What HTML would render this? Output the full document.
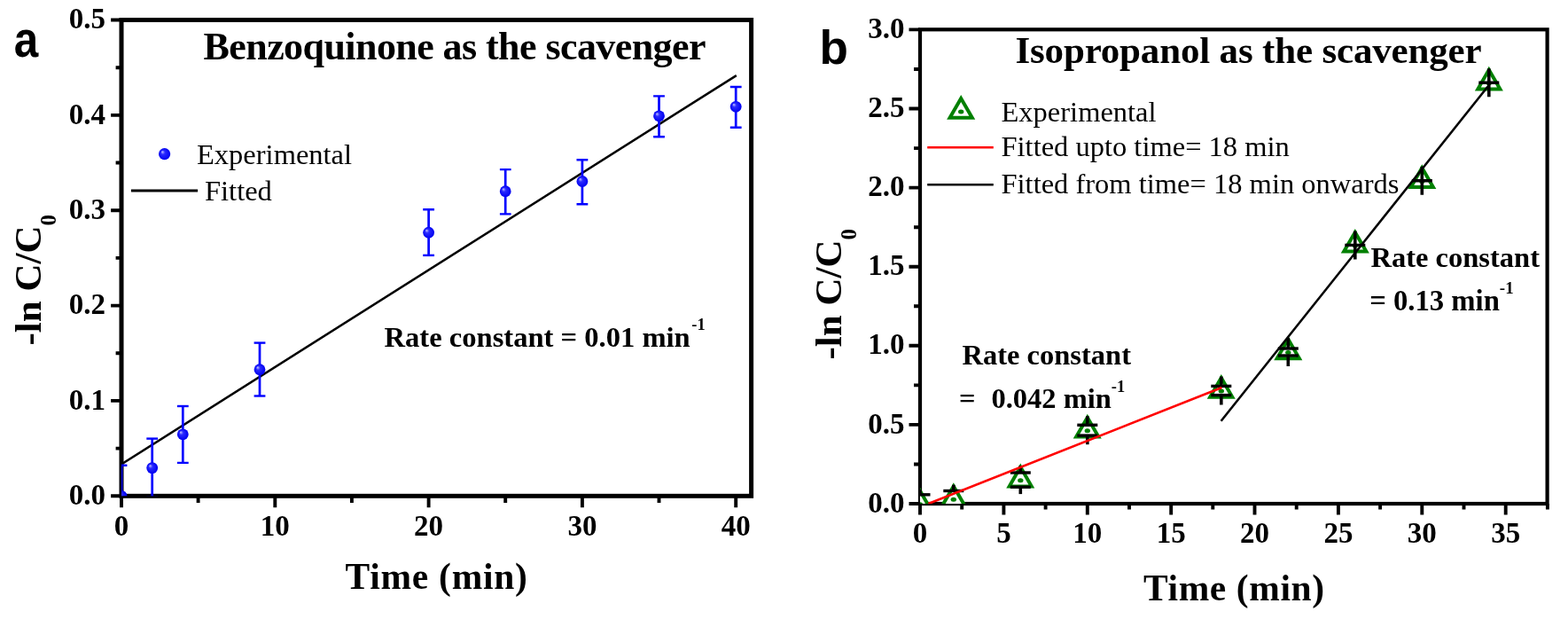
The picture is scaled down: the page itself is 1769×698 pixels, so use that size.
<!DOCTYPE html>
<html><head><meta charset="utf-8"><title>Scavenger kinetics</title>
<style>html,body{margin:0;padding:0;background:#fff;} svg{display:block;}</style></head>
<body><svg width="1769" height="698" viewBox="0 0 1769 698">
<defs><radialGradient id="sph" cx="0.5" cy="0.5" r="0.5" fx="0.3" fy="0.3">
<stop offset="0" stop-color="#c8c8ff"/><stop offset="0.35" stop-color="#2a2aff"/><stop offset="1" stop-color="#0000f0"/></radialGradient></defs>
<rect width="1769" height="698" fill="#fff"/>
<clipPath id="ca"><rect x="137.0" y="22.5" width="710.6" height="536.8"/></clipPath>
<clipPath id="cb"><rect x="1038" y="33.3" width="707.5999999999999" height="534.7"/></clipPath>
<rect x="137.0" y="22.5" width="710.6" height="536.8" fill="none" stroke="#000" stroke-width="5.0"/>
<path d="M137.0 559.3 V572.3 M310.3 559.3 V572.3 M483.6 559.3 V572.3 M656.9 559.3 V572.3 M830.2 559.3 V572.3 M223.6 559.3 V567 M396.9 559.3 V567 M570.2 559.3 V567 M743.5 559.3 V567 M137.0 559.3 H125.1 M137.0 451.9 H125.1 M137.0 344.6 H125.1 M137.0 237.2 H125.1 M137.0 129.9 H125.1 M137.0 22.5 H125.1 M137.0 505.6 H130.6 M137.0 398.3 H130.6 M137.0 290.9 H130.6 M137.0 183.5 H130.6 M137.0 76.2 H130.6" stroke="#000" stroke-width="3.9" fill="none"/>
<g clip-path="url(#ca)">
<line x1="137.0" y1="523.5" x2="830.8" y2="85.1" stroke="#000" stroke-width="2.5"/>
<line x1="137.0" y1="524.7" x2="137.0" y2="594" stroke="#0000ff" stroke-width="2.7"/>
<line x1="130.6" y1="524.7" x2="143.4" y2="524.7" stroke="#0000ff" stroke-width="2.4"/>
<line x1="130.6" y1="594" x2="143.4" y2="594" stroke="#0000ff" stroke-width="2.4"/>
<circle cx="137.0" cy="559.3" r="6.4" fill="url(#sph)"/>
<line x1="171.7" y1="494.6" x2="171.7" y2="560.6" stroke="#0000ff" stroke-width="2.7"/>
<line x1="165.3" y1="494.6" x2="178.1" y2="494.6" stroke="#0000ff" stroke-width="2.4"/>
<line x1="165.3" y1="560.6" x2="178.1" y2="560.6" stroke="#0000ff" stroke-width="2.4"/>
<circle cx="171.7" cy="527.6" r="6.4" fill="url(#sph)"/>
<line x1="206.3" y1="458" x2="206.3" y2="521.9" stroke="#0000ff" stroke-width="2.7"/>
<line x1="199.9" y1="458" x2="212.7" y2="458" stroke="#0000ff" stroke-width="2.4"/>
<line x1="199.9" y1="521.9" x2="212.7" y2="521.9" stroke="#0000ff" stroke-width="2.4"/>
<circle cx="206.3" cy="489.8" r="6.4" fill="url(#sph)"/>
<line x1="293.0" y1="386.6" x2="293.0" y2="446.5" stroke="#0000ff" stroke-width="2.7"/>
<line x1="286.6" y1="386.6" x2="299.4" y2="386.6" stroke="#0000ff" stroke-width="2.4"/>
<line x1="286.6" y1="446.5" x2="299.4" y2="446.5" stroke="#0000ff" stroke-width="2.4"/>
<circle cx="293.0" cy="416.7" r="6.4" fill="url(#sph)"/>
<line x1="483.6" y1="236.2" x2="483.6" y2="287.9" stroke="#0000ff" stroke-width="2.7"/>
<line x1="477.2" y1="236.2" x2="490.0" y2="236.2" stroke="#0000ff" stroke-width="2.4"/>
<line x1="477.2" y1="287.9" x2="490.0" y2="287.9" stroke="#0000ff" stroke-width="2.4"/>
<circle cx="483.6" cy="262.2" r="6.4" fill="url(#sph)"/>
<line x1="570.2" y1="191.1" x2="570.2" y2="241.4" stroke="#0000ff" stroke-width="2.7"/>
<line x1="563.9" y1="191.1" x2="576.6" y2="191.1" stroke="#0000ff" stroke-width="2.4"/>
<line x1="563.9" y1="241.4" x2="576.6" y2="241.4" stroke="#0000ff" stroke-width="2.4"/>
<circle cx="570.2" cy="215.7" r="6.4" fill="url(#sph)"/>
<line x1="656.9" y1="180.3" x2="656.9" y2="230.2" stroke="#0000ff" stroke-width="2.7"/>
<line x1="650.5" y1="180.3" x2="663.3" y2="180.3" stroke="#0000ff" stroke-width="2.4"/>
<line x1="650.5" y1="230.2" x2="663.3" y2="230.2" stroke="#0000ff" stroke-width="2.4"/>
<circle cx="656.9" cy="204.5" r="6.4" fill="url(#sph)"/>
<line x1="743.5" y1="108.4" x2="743.5" y2="154.2" stroke="#0000ff" stroke-width="2.7"/>
<line x1="737.1" y1="108.4" x2="749.9" y2="108.4" stroke="#0000ff" stroke-width="2.4"/>
<line x1="737.1" y1="154.2" x2="749.9" y2="154.2" stroke="#0000ff" stroke-width="2.4"/>
<circle cx="743.5" cy="130.8" r="6.4" fill="url(#sph)"/>
<line x1="830.2" y1="98" x2="830.2" y2="143.8" stroke="#0000ff" stroke-width="2.7"/>
<line x1="823.8" y1="98" x2="836.6" y2="98" stroke="#0000ff" stroke-width="2.4"/>
<line x1="823.8" y1="143.8" x2="836.6" y2="143.8" stroke="#0000ff" stroke-width="2.4"/>
<circle cx="830.2" cy="120.3" r="6.4" fill="url(#sph)"/>
</g>
<g font-family="'Liberation Serif', 'Times New Roman', serif" font-weight="bold" font-size="33"><text x="119" y="568.9" text-anchor="end">0.0</text><text x="119" y="461.5" text-anchor="end">0.1</text><text x="119" y="354.2" text-anchor="end">0.2</text><text x="119" y="246.8" text-anchor="end">0.3</text><text x="119" y="139.5" text-anchor="end">0.4</text><text x="119" y="32.1" text-anchor="end">0.5</text><text x="137.0" y="603.5" text-anchor="middle">0</text><text x="310.3" y="603.5" text-anchor="middle">10</text><text x="483.6" y="603.5" text-anchor="middle">20</text><text x="656.9" y="603.5" text-anchor="middle">30</text><text x="830.2" y="603.5" text-anchor="middle">40</text></g>
<rect x="1038.0" y="33.3" width="707.5999999999999" height="534.7" fill="none" stroke="#000" stroke-width="4.2"/>
<path d="M1038.0 568.0 V580.6 M1132.4 568.0 V580.6 M1226.8 568.0 V580.6 M1321.2 568.0 V580.6 M1415.5 568.0 V580.6 M1509.9 568.0 V580.6 M1604.3 568.0 V580.6 M1698.7 568.0 V580.6 M1085.2 568.0 V574.5 M1179.6 568.0 V574.5 M1274.0 568.0 V574.5 M1368.3 568.0 V574.5 M1462.7 568.0 V574.5 M1557.1 568.0 V574.5 M1651.5 568.0 V574.5 M1745.9 568.0 V574.5 M1038.0 568.0 H1025.5 M1038.0 478.9 H1025.5 M1038.0 389.8 H1025.5 M1038.0 300.7 H1025.5 M1038.0 211.6 H1025.5 M1038.0 122.5 H1025.5 M1038.0 33.4 H1025.5 M1038.0 523.5 H1031 M1038.0 434.4 H1031 M1038.0 345.2 H1031 M1038.0 256.2 H1031 M1038.0 167.1 H1031 M1038.0 78.0 H1031" stroke="#000" stroke-width="3.9" fill="none"/>
<g clip-path="url(#cb)">
<polygon points="1038.0,553.6 1025.4,575.4 1050.6,575.4" fill="#fff" stroke="#008000" stroke-width="4.0" stroke-linejoin="miter"/><ellipse cx="1038.0" cy="568.7" rx="3.2" ry="2.5" fill="#008000"/>
<polygon points="1075.8,548.2 1063.2,570.0 1088.3,570.0" fill="#fff" stroke="#008000" stroke-width="4.0" stroke-linejoin="miter"/><ellipse cx="1075.8" cy="563.3" rx="3.2" ry="2.5" fill="#008000"/>
<polygon points="1151.3,526.6 1138.7,548.4 1163.8,548.4" fill="#fff" stroke="#008000" stroke-width="4.0" stroke-linejoin="miter"/><ellipse cx="1151.3" cy="541.7" rx="3.2" ry="2.5" fill="#008000"/>
<polygon points="1226.8,470.7 1214.2,492.4 1239.3,492.4" fill="#fff" stroke="#008000" stroke-width="4.0" stroke-linejoin="miter"/><ellipse cx="1226.8" cy="485.8" rx="3.2" ry="2.5" fill="#008000"/>
<polygon points="1377.8,426.0 1365.2,447.8 1390.3,447.8" fill="#fff" stroke="#008000" stroke-width="4.0" stroke-linejoin="miter"/><ellipse cx="1377.8" cy="441.1" rx="3.2" ry="2.5" fill="#008000"/>
<polygon points="1453.3,382.5 1440.7,404.2 1465.9,404.2" fill="#fff" stroke="#008000" stroke-width="4.0" stroke-linejoin="miter"/><ellipse cx="1453.3" cy="397.6" rx="3.2" ry="2.5" fill="#008000"/>
<polygon points="1528.8,261.9 1516.2,283.6 1541.4,283.6" fill="#fff" stroke="#008000" stroke-width="4.0" stroke-linejoin="miter"/><ellipse cx="1528.8" cy="277.0" rx="3.2" ry="2.5" fill="#008000"/>
<polygon points="1604.3,189.3 1591.8,211.1 1616.9,211.1" fill="#fff" stroke="#008000" stroke-width="4.0" stroke-linejoin="miter"/><ellipse cx="1604.3" cy="204.4" rx="3.2" ry="2.5" fill="#008000"/>
<polygon points="1679.8,78.7 1667.3,100.5 1692.4,100.5" fill="#fff" stroke="#008000" stroke-width="4.0" stroke-linejoin="miter"/><ellipse cx="1679.8" cy="93.8" rx="3.2" ry="2.5" fill="#008000"/>
<line x1="1038.0" y1="552.1" x2="1038.0" y2="557.8" stroke="#000" stroke-width="3.6"/>
<line x1="1038.0" y1="578.4" x2="1038.0" y2="584.1" stroke="#000" stroke-width="3.6"/>
<line x1="1026.5" y1="557.8" x2="1049.5" y2="557.8" stroke="#000" stroke-width="3.4"/>
<line x1="1026.5" y1="578.4" x2="1049.5" y2="578.4" stroke="#000" stroke-width="3.4"/>
<line x1="1075.8" y1="546.7" x2="1075.8" y2="553.5" stroke="#000" stroke-width="3.6"/>
<line x1="1075.8" y1="571.9" x2="1075.8" y2="578.7" stroke="#000" stroke-width="3.6"/>
<line x1="1064.3" y1="553.5" x2="1087.3" y2="553.5" stroke="#000" stroke-width="3.4"/>
<line x1="1064.3" y1="571.9" x2="1087.3" y2="571.9" stroke="#000" stroke-width="3.4"/>
<line x1="1151.3" y1="525.1" x2="1151.3" y2="533.0" stroke="#000" stroke-width="3.6"/>
<line x1="1151.3" y1="549.2" x2="1151.3" y2="557.1" stroke="#000" stroke-width="3.6"/>
<line x1="1139.8" y1="533.0" x2="1162.8" y2="533.0" stroke="#000" stroke-width="3.4"/>
<line x1="1139.8" y1="549.2" x2="1162.8" y2="549.2" stroke="#000" stroke-width="3.4"/>
<line x1="1226.8" y1="469.2" x2="1226.8" y2="479.3" stroke="#000" stroke-width="3.6"/>
<line x1="1226.8" y1="491.1" x2="1226.8" y2="501.2" stroke="#000" stroke-width="3.6"/>
<line x1="1215.3" y1="479.3" x2="1238.3" y2="479.3" stroke="#000" stroke-width="3.4"/>
<line x1="1215.3" y1="491.1" x2="1238.3" y2="491.1" stroke="#000" stroke-width="3.4"/>
<line x1="1377.8" y1="424.5" x2="1377.8" y2="435.4" stroke="#000" stroke-width="3.6"/>
<line x1="1377.8" y1="445.6" x2="1377.8" y2="456.5" stroke="#000" stroke-width="3.6"/>
<line x1="1366.3" y1="435.4" x2="1389.3" y2="435.4" stroke="#000" stroke-width="3.4"/>
<line x1="1366.3" y1="445.6" x2="1389.3" y2="445.6" stroke="#000" stroke-width="3.4"/>
<line x1="1453.3" y1="381.0" x2="1453.3" y2="393.0" stroke="#000" stroke-width="3.6"/>
<line x1="1453.3" y1="401.0" x2="1453.3" y2="413.0" stroke="#000" stroke-width="3.6"/>
<line x1="1441.8" y1="393.0" x2="1464.8" y2="393.0" stroke="#000" stroke-width="3.4"/>
<line x1="1441.8" y1="401.0" x2="1464.8" y2="401.0" stroke="#000" stroke-width="3.4"/>
<line x1="1528.8" y1="260.4" x2="1528.8" y2="292.4" stroke="#000" stroke-width="3.6"/>
<line x1="1517.3" y1="276.4" x2="1540.3" y2="276.4" stroke="#000" stroke-width="3.4"/>
<line x1="1604.3" y1="187.8" x2="1604.3" y2="219.8" stroke="#000" stroke-width="3.6"/>
<line x1="1592.8" y1="203.8" x2="1615.8" y2="203.8" stroke="#000" stroke-width="3.4"/>
<line x1="1679.8" y1="77.2" x2="1679.8" y2="109.2" stroke="#000" stroke-width="3.6"/>
<line x1="1668.3" y1="93.2" x2="1691.3" y2="93.2" stroke="#000" stroke-width="3.4"/>
<line x1="1047.4" y1="568" x2="1378.4" y2="437" stroke="#ff0000" stroke-width="2.6"/>
<line x1="1377.6" y1="474.8" x2="1679" y2="97" stroke="#000" stroke-width="2.6"/>
</g>
<g font-family="'Liberation Serif', 'Times New Roman', serif" font-weight="bold" font-size="33"><text x="1020.5" y="577.6" text-anchor="end">0.0</text><text x="1020.5" y="488.5" text-anchor="end">0.5</text><text x="1020.5" y="399.4" text-anchor="end">1.0</text><text x="1020.5" y="310.3" text-anchor="end">1.5</text><text x="1020.5" y="221.2" text-anchor="end">2.0</text><text x="1020.5" y="132.1" text-anchor="end">2.5</text><text x="1020.5" y="43.0" text-anchor="end">3.0</text><text x="1038.0" y="612" text-anchor="middle">0</text><text x="1132.4" y="612" text-anchor="middle">5</text><text x="1226.8" y="612" text-anchor="middle">10</text><text x="1321.2" y="612" text-anchor="middle">15</text><text x="1415.5" y="612" text-anchor="middle">20</text><text x="1509.9" y="612" text-anchor="middle">25</text><text x="1604.3" y="612" text-anchor="middle">30</text><text x="1698.7" y="612" text-anchor="middle">35</text></g>
<text transform="translate(15.7 63.8) scale(0.86 1)" font-family="'Liberation Sans', Arial, sans-serif" font-weight="bold" font-size="57.5">a</text>
<text x="924.5" y="71.7" font-family="'Liberation Sans', Arial, sans-serif" font-weight="bold" font-size="53">b</text>
<text x="229.5" y="67.4" font-family="'Liberation Serif', 'Times New Roman', serif" font-weight="bold" font-size="44" textLength="567" lengthAdjust="spacing">Benzoquinone as the scavenger</text>
<text x="1145.5" y="70.7" font-family="'Liberation Serif', 'Times New Roman', serif" font-weight="bold" font-size="43" textLength="526" lengthAdjust="spacing">Isopropanol as the scavenger</text>
<circle cx="185.6" cy="173.7" r="6.6" fill="url(#sph)"/>
<text x="222" y="184.8" font-family="'Liberation Serif', 'Times New Roman', serif" font-size="32.5">Experimental</text>
<line x1="147.9" y1="214.9" x2="223.1" y2="214.9" stroke="#000" stroke-width="3"/>
<text x="231" y="226" font-family="'Liberation Serif', 'Times New Roman', serif" font-size="32.5">Fitted</text>
<text x="433.5" y="390.8" font-family="'Liberation Serif', 'Times New Roman', serif" font-weight="bold" font-size="32.6">Rate constant = 0.01 min<tspan font-size="18.5" dx="1.5" dy="-18.5">-1</tspan></text>
<text x="389.5" y="663.6" font-family="'Liberation Serif', 'Times New Roman', serif" font-weight="bold" font-size="41.5" letter-spacing="0.75">Time (min)</text>
<text transform="translate(46.2 389.5) rotate(-90)" font-family="'Liberation Serif', 'Times New Roman', serif" font-weight="bold" font-size="43">-ln C/C<tspan font-size="25" dy="17">0</tspan></text>
<polygon points="1084.2,110.9 1071.6,132.7 1096.8,132.7" fill="#fff" stroke="#008000" stroke-width="4.0" stroke-linejoin="miter"/><ellipse cx="1084.2" cy="126.0" rx="3.2" ry="2.5" fill="#008000"/>
<text x="1129.5" y="137.3" font-family="'Liberation Serif', 'Times New Roman', serif" font-size="32.5">Experimental</text>
<line x1="1046.2" y1="166.2" x2="1120.8" y2="166.2" stroke="#ff0000" stroke-width="2.6"/>
<text x="1129.5" y="176.2" font-family="'Liberation Serif', 'Times New Roman', serif" font-size="32.5">Fitted upto time= 18 min</text>
<line x1="1046.2" y1="208.2" x2="1120.8" y2="208.2" stroke="#000" stroke-width="2.6"/>
<text x="1129.5" y="218.2" font-family="'Liberation Serif', 'Times New Roman', serif" font-size="32.5">Fitted from time= 18 min onwards</text>
<text x="1085.5" y="411" font-family="'Liberation Serif', 'Times New Roman', serif" font-weight="bold" font-size="32.5">Rate constant</text>
<text x="1082" y="460" font-family="'Liberation Serif', 'Times New Roman', serif" font-weight="bold" font-size="32.5">=</text><text x="1118.4" y="460" font-family="'Liberation Serif', 'Times New Roman', serif" font-weight="bold" font-size="32.5">0.042 min<tspan font-size="18.5" dy="-18.5">-1</tspan></text>
<text x="1546.5" y="301.1" font-family="'Liberation Serif', 'Times New Roman', serif" font-weight="bold" font-size="32.5">Rate constant</text>
<text x="1545.2" y="350.1" font-family="'Liberation Serif', 'Times New Roman', serif" font-weight="bold" font-size="32.7">= 0.13 min<tspan font-size="19" dx="0" dy="-19">-1</tspan></text>
<text x="1290" y="676.8" font-family="'Liberation Serif', 'Times New Roman', serif" font-weight="bold" font-size="41.5" letter-spacing="0.6">Time (min)</text>
<text transform="translate(948.7 405.5) rotate(-90)" font-family="'Liberation Serif', 'Times New Roman', serif" font-weight="bold" font-size="43">-ln C/C<tspan font-size="25" dy="16.8">0</tspan></text>
</svg></body></html>
